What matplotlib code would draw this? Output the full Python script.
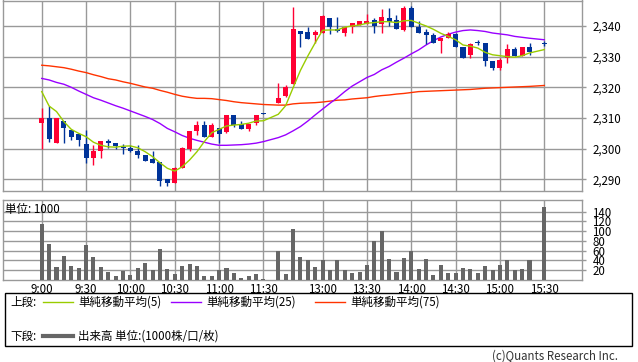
import matplotlib
matplotlib.use("Agg")
import matplotlib.pyplot as plt
from matplotlib.lines import Line2D
from matplotlib.patches import Rectangle
from matplotlib.ticker import FuncFormatter

plt.rcParams['font.family'] = ['Noto Sans CJK JP', 'DejaVu Sans']

# 5-minute bars (no bar at 15:25, lunch break between 11:30 and 12:30)
times = ["9:00", "9:05", "9:10", "9:15", "9:20", "9:25", "9:30", "9:35", "9:40", "9:45",
         "9:50", "9:55", "10:00", "10:05", "10:10", "10:15", "10:20", "10:25", "10:30", "10:35",
         "10:40", "10:45", "10:50", "10:55", "11:00", "11:05", "11:10", "11:15", "11:20", "11:25",
         "11:30",
         "12:30", "12:35", "12:40", "12:45", "12:50", "12:55", "13:00", "13:05", "13:10", "13:15",
         "13:20", "13:25", "13:30", "13:35", "13:40", "13:45", "13:50", "13:55", "14:00", "14:05",
         "14:10", "14:15", "14:20", "14:25", "14:30", "14:35", "14:40", "14:45", "14:50", "14:55",
         "15:00", "15:05", "15:10", "15:15", "15:20",
         "15:30"]

opens = [2308.5, 2310.0, 2302.0, 2309.0, 2306.1, 2304.8, 2301.4, 2297.0, 2299.3, 2302.4,
         2302.0, 2300.7, 2300.2, 2299.1, 2298.1, 2296.5, 2295.7, 2290.0, 2288.7, 2293.7,
         2300.0, 2305.8, 2307.7, 2303.9, 2306.9, 2305.5, 2311.0, 2308.0, 2306.3, 2308.5,
         2311.6,
         2315.0, 2317.2, 2321.0, 2338.4, 2338.0, 2337.1, 2337.8, 2342.5, 2339.0, 2337.8,
         2339.8, 2340.3, 2340.6, 2341.9, 2340.5, 2342.5, 2341.9, 2338.7, 2345.7, 2339.8,
         2338.1, 2337.1, 2335.2, 2336.0, 2337.3, 2333.1, 2330.6, 2334.5, 2334.6, 2328.7,
         2326.3, 2329.6, 2332.5, 2330.3, 2333.1,
         2334.3]
highs = [2313.3, 2314.0, 2310.0, 2309.0, 2306.1, 2304.8, 2306.2, 2301.1, 2302.4, 2303.2,
         2302.0, 2301.5, 2301.2, 2301.1, 2298.1, 2299.2, 2295.7, 2290.0, 2294.0, 2300.6,
         2305.8, 2309.1, 2309.1, 2308.5, 2306.9, 2311.0, 2311.0, 2309.0, 2308.0, 2311.0,
         2311.6,
         2321.3, 2320.8, 2346.1, 2338.4, 2339.8, 2338.7, 2343.5, 2342.5, 2343.0, 2339.6,
         2341.1, 2341.7, 2343.9, 2342.5, 2345.4, 2345.7, 2343.5, 2346.5, 2346.5, 2341.7,
         2338.9, 2337.6, 2336.0, 2338.0, 2337.8, 2333.1, 2334.6, 2335.3, 2334.6, 2328.7,
         2329.6, 2334.2, 2333.1, 2333.1, 2334.6,
         2335.0]
lows = [2300.0, 2302.2, 2302.0, 2302.0, 2302.8, 2300.8, 2295.3, 2294.6, 2297.0, 2300.3,
        2300.0, 2298.3, 2299.0, 2297.0, 2295.9, 2295.2, 2287.7, 2287.7, 2288.7, 2293.7,
        2299.3, 2304.5, 2303.9, 2303.9, 2301.8, 2305.0, 2307.2, 2306.4, 2305.8, 2307.7,
        2311.4,
        2315.0, 2316.7, 2321.0, 2333.3, 2335.9, 2334.6, 2337.8, 2337.3, 2338.0, 2336.8,
        2337.8, 2340.3, 2340.6, 2337.8, 2337.8, 2340.0, 2338.9, 2338.2, 2339.8, 2337.8,
        2334.1, 2334.6, 2331.2, 2336.0, 2333.1, 2329.6, 2329.6, 2333.7, 2327.1, 2325.8,
        2325.8, 2328.0, 2330.3, 2330.3, 2330.6,
        2333.5]
closes = [2310.0, 2303.2, 2310.0, 2306.6, 2303.9, 2302.9, 2297.0, 2299.1, 2302.4, 2301.8,
          2300.8, 2300.2, 2299.2, 2298.1, 2295.9, 2295.2, 2289.3, 2288.7, 2293.7, 2300.3,
          2305.8, 2307.7, 2303.9, 2307.7, 2304.7, 2311.0, 2307.6, 2306.4, 2308.0, 2311.0,
          2311.4,
          2316.6, 2320.0, 2339.0, 2337.3, 2335.9, 2338.0, 2343.2, 2339.5, 2338.2, 2339.6,
          2340.9, 2341.7, 2341.6, 2340.0, 2343.0, 2341.4, 2338.9, 2345.7, 2339.8, 2337.8,
          2337.0, 2334.6, 2336.0, 2337.3, 2333.1, 2329.6, 2334.2, 2334.3, 2328.5, 2326.3,
          2329.0, 2332.5, 2330.3, 2333.1, 2331.4,
          2334.1]

ma5 = [2318.6, 2313.9, 2312.1, 2308.8, 2306.3, 2305.0, 2303.9, 2302.1, 2301.1, 2300.6,
       2300.5, 2300.8, 2300.9, 2300.3, 2299.0, 2297.4, 2295.4, 2293.6, 2292.7, 2294.1,
       2296.3, 2299.0, 2302.3, 2305.2, 2306.3, 2307.4, 2307.7, 2307.9, 2308.3, 2309.0,
       2309.1,
       2311.2, 2314.0, 2319.8, 2325.5, 2330.2, 2334.5, 2338.6, 2338.7, 2338.7, 2339.6,
       2340.0, 2340.3, 2340.9, 2341.1, 2341.4, 2341.4, 2341.1, 2341.7, 2341.8, 2340.9,
       2340.0, 2338.9, 2337.6, 2336.6, 2335.5, 2333.8, 2333.4, 2332.8, 2331.4, 2330.6,
       2330.3, 2330.0, 2329.8, 2330.3, 2331.2,
       2332.3]
ma25 = [2322.9, 2322.4, 2321.6, 2321.0, 2320.0, 2318.8, 2317.7, 2316.6, 2315.8, 2314.9,
        2314.0, 2313.2, 2312.3, 2311.4, 2310.5, 2309.5, 2308.2, 2306.6, 2305.5, 2304.3,
        2303.4, 2302.7, 2302.1, 2301.5, 2301.1, 2301.1, 2301.2, 2301.3, 2301.5, 2301.8,
        2302.3,
        2303.6, 2304.5, 2305.8, 2307.2, 2309.0, 2311.0, 2312.9, 2314.8, 2316.6, 2318.6,
        2320.4, 2321.8, 2323.2, 2324.2, 2325.7, 2326.8, 2328.2, 2329.5, 2330.9, 2332.2,
        2333.8, 2335.2, 2336.4, 2337.3, 2338.0, 2338.5, 2338.7, 2338.5, 2338.2, 2337.7,
        2337.4, 2337.1, 2336.6, 2336.3, 2336.0,
        2335.5]
ma75 = [2327.2, 2327.0, 2326.7, 2326.4, 2325.9, 2325.3, 2324.8, 2324.1, 2323.5, 2322.8,
        2322.4, 2321.8, 2321.3, 2320.7, 2320.1, 2319.7, 2319.0, 2318.4, 2317.7, 2317.1,
        2316.7, 2316.4, 2316.4, 2316.3, 2316.0, 2315.7, 2315.3, 2315.0, 2314.8, 2314.6,
        2314.4,
        2314.2, 2314.2, 2314.6, 2314.8, 2314.9, 2315.0, 2315.2, 2315.5, 2315.8, 2315.9,
        2316.2, 2316.4, 2316.6, 2317.0, 2317.3, 2317.5, 2317.8, 2318.0, 2318.3, 2318.6,
        2318.7, 2318.8, 2318.9, 2319.0, 2319.1, 2319.2, 2319.3, 2319.5, 2319.7, 2319.8,
        2319.9, 2320.0, 2320.1, 2320.2, 2320.3,
        2320.6]

volumes = [115, 74, 27, 49, 29, 25, 72, 47, 27, 17,
           8, 18, 10, 25, 35, 20, 63, 22, 12, 29,
           33, 29, 8, 8, 20, 25, 14, 4, 8, 12,
           2,
           59, 12, 104, 47, 41, 27, 41, 20, 41, 20,
           14, 17, 31, 79, 100, 43, 17, 45, 59, 22,
           43, 10, 31, 14, 14, 25, 22, 14, 29, 20,
           31, 41, 20, 22, 41,
           150]

tick_labels = ["9:00", "9:30", "10:00", "10:30", "11:00", "11:30",
               "13:00", "13:30", "14:00", "14:30", "15:00", "15:30"]
price_ticks = [2290, 2300, 2310, 2320, 2330, 2340]
volume_ticks = [20, 40, 60, 80, 100, 120, 140]

UP = '#FF0033'
DOWN = '#003399'
GRID = '#999999'
FS = 8.3


def slot(t):
    # position on the time axis: one slot per 5 minutes, one empty slot at lunch
    h, m = map(int, t.split(':'))
    mins = h * 60 + m
    if mins <= 11 * 60 + 30:
        return (mins - 9 * 60) // 5
    return (mins - (12 * 60 + 30)) // 5 + 32


def style_axes(ax):
    for s in ax.spines.values():
        s.set_color(GRID)
        s.set_linewidth(1)
    ax.set_axisbelow(True)
    ax.grid(True, color=GRID, linewidth=1)
    ax.yaxis.tick_right()
    ax.tick_params(axis='y', length=3, width=1, color=GRID, pad=4.5, labelsize=FS)
    ax.set_xlim(-5.24, 73.1)
    ax.set_xticks([slot(t) for t in tick_labels])


def main():
    W, H = 638, 362
    fig = plt.figure(figsize=(W / 100, H / 100), dpi=100)
    ax = fig.add_axes([3 / W, 1 - 190.7 / H, 579 / W, 190.2 / H])
    axv = fig.add_axes([3 / W, 1 - 280 / H, 579 / W, 80 / H])

    x = [slot(t) for t in times]

    # price panel
    style_axes(ax)
    ax.plot(x, ma75, color='#FF3300', lw=1, zorder=2)
    ax.plot(x, ma25, color='#9900FF', lw=1, zorder=2)
    for xi, o, h, l, c in zip(x, opens, highs, lows, closes):
        col = UP if c > o else DOWN
        ax.vlines(xi, l, h, color=col, lw=1, zorder=3)
        body = max(abs(c - o), 0.35)
        ax.bar(xi, body, bottom=min(o, c), width=0.68, color=col, zorder=4)
    ax.plot(x, ma5, color='#99CC00', lw=1, zorder=5)
    ax.set_ylim(2286.3, 2348.3)
    ax.set_yticks(price_ticks)
    ax.yaxis.set_major_formatter(FuncFormatter(lambda v, p: f'{v:,.0f}'))
    ax.tick_params(axis='x', length=0, labelbottom=False)

    # volume panel
    style_axes(axv)
    axv.bar(x, volumes, width=0.55, color='#666666', zorder=3)
    axv.set_ylim(0, 163.7)
    axv.set_yticks(volume_ticks)
    axv.set_xticklabels(tick_labels)
    axv.tick_params(axis='x', length=0, pad=2, labelsize=FS)
    axv.text(0.003, 0.887, '単位: 1000', transform=axv.transAxes, fontsize=FS,
             va='center', ha='left', zorder=6)

    # legend box
    fig.patches.append(Rectangle((5 / W, 1 - 346 / H), 627 / W, 53 / H,
                                 transform=fig.transFigure, fill=False,
                                 edgecolor='black', lw=1))
    y1 = 1 - 302 / H
    y2 = 1 - 336 / H
    fig.text(10 / W, y1, '上段:', fontsize=FS, va='center')
    legend_items = [(43, '#99CC00', '単純移動平均(5)'),
                    (171, '#9900FF', '単純移動平均(25)'),
                    (315, '#FF3300', '単純移動平均(75)')]
    for x0, col, lab in legend_items:
        fig.add_artist(Line2D([x0 / W, (x0 + 30) / W], [y1, y1], color=col, lw=1,
                              transform=fig.transFigure))
        fig.text((x0 + 35) / W, y1, lab, fontsize=FS, va='center')
    fig.text(10 / W, y2, '下段:', fontsize=FS, va='center')
    fig.add_artist(Line2D([43 / W, 73 / W], [y2, y2], color='#666666', lw=3,
                          transform=fig.transFigure))
    fig.text(78 / W, y2, '出来高 単位:(1000株/口/枚)', fontsize=FS, va='center')
    fig.text(618 / W, 1 - 356 / H, '(c)Quants Research Inc.', fontsize=FS,
             va='center', ha='right', color='#333333')

    fig.savefig('out.png', dpi=100)


if __name__ == "__main__":
    main()
